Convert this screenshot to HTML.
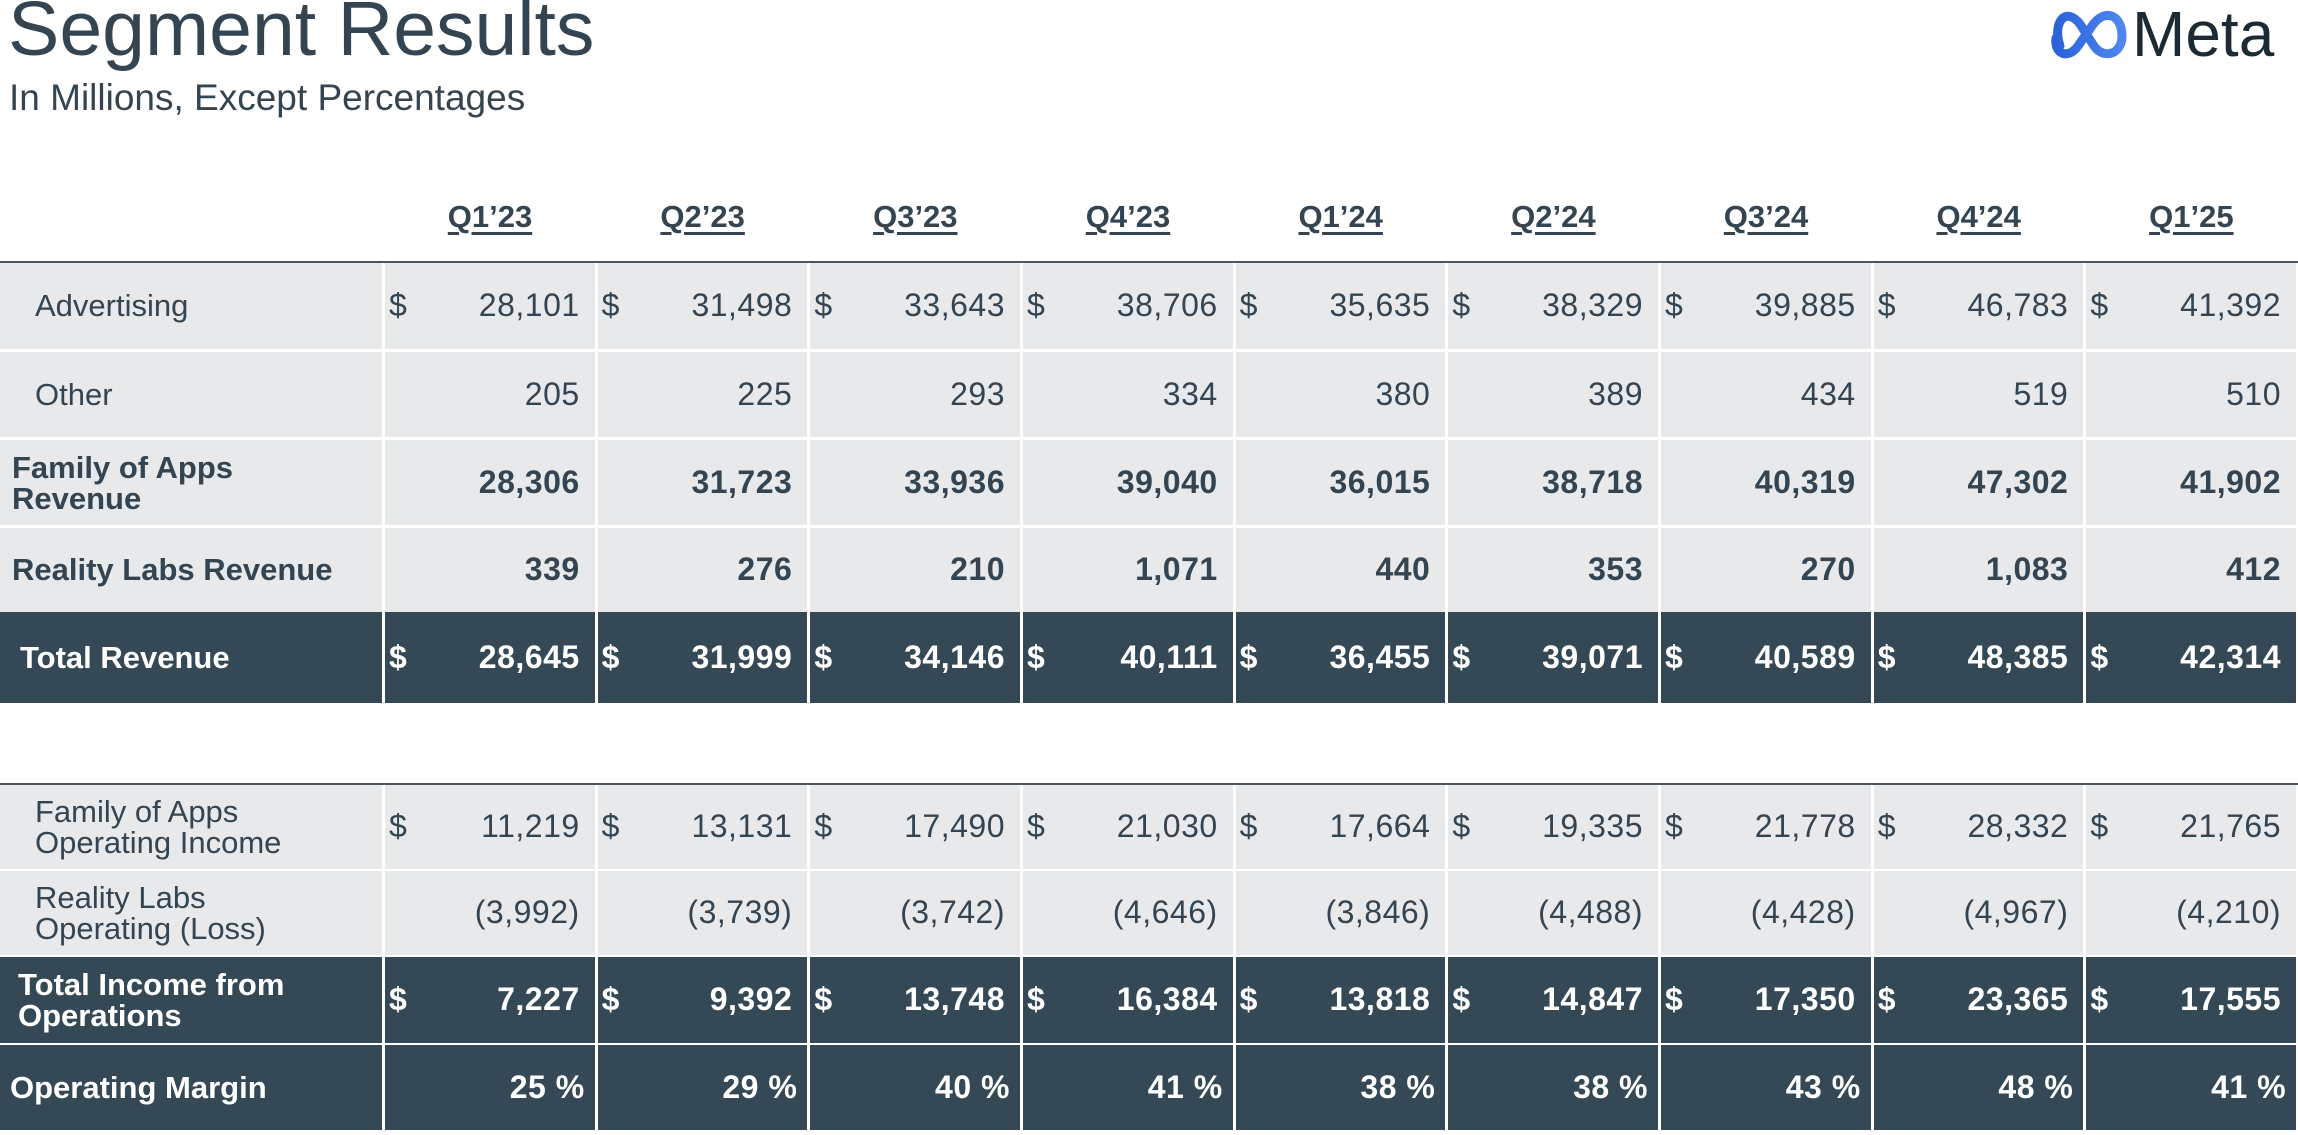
<!DOCTYPE html>
<html><head><meta charset="utf-8">
<style>
html,body{margin:0;padding:0;background:#fff;}
body{width:2298px;height:1135px;position:relative;overflow:hidden;font-family:"Liberation Sans",sans-serif;color:#344551;}
.a{position:absolute;white-space:nowrap;}
.cell{position:absolute;}
.lt{background:#e8e9ea;}
.dk{background:#344955;color:#fff;}
.num{position:absolute;right:15px;font-size:32px;letter-spacing:0.5px;}
.dol{position:absolute;left:4px;font-size:32px;}
.lbl{position:absolute;font-size:31px;line-height:31px;}
.hdr{position:absolute;font-size:31px;font-weight:bold;text-decoration:underline;text-underline-offset:5px;text-align:center;width:212px;}
</style></head><body>
<div class="a" style="left:8px;top:-15px;font-size:77px;color:#344551;">Segment Results</div>
<div class="a" style="left:9px;top:77px;font-size:37px;color:#344551;">In Millions, Except Percentages</div>
<div class="a" style="left:2048px;top:2px;width:250px;height:64px;">
<svg width="250" height="64">
<defs><linearGradient id="g" x1="0" x2="1"><stop offset="0" stop-color="#2a63d8"/><stop offset="1" stop-color="#4f86f0"/></linearGradient></defs>
<path d="M12,44 C4,20 18,4 32,22 L46,44 C56,58 74,52 74,34 C74,12 56,6 44,24 L30,44 C20,58 6,52 8,36" fill="none" stroke="url(#g)" stroke-width="9" stroke-linecap="round"/>
</svg>
<div class="a" style="left:84px;top:-5px;font-size:64px;color:#1c2b33;">Meta</div>
</div>
<div id="t"></div>
<script>
const quarters=["Q1’23","Q2’23","Q3’23","Q4’23","Q1’24","Q2’24","Q3’24","Q4’24","Q1’25"];
const advertising=[28101,31498,33643,38706,35635,38329,39885,46783,41392];
const other=[205,225,293,334,380,389,434,519,510];
const foaRevenue=[28306,31723,33936,39040,36015,38718,40319,47302,41902];
const rlRevenue=[339,276,210,1071,440,353,270,1083,412];
const totalRevenue=[28645,31999,34146,40111,36455,39071,40589,48385,42314];
const foaIncome=[11219,13131,17490,21030,17664,19335,21778,28332,21765];
const rlLoss=[-3992,-3739,-3742,-4646,-3846,-4488,-4428,-4967,-4210];
const totalIncome=[7227,9392,13748,16384,13818,14847,17350,23365,17555];
const margin=[25,29,40,41,38,38,43,48,41];

const root=document.getElementById('t');
const X0=384,CW=212.67;
function fmt(v){const s=Math.abs(v).toLocaleString('en-US');return v<0?'('+s+')':s;}
function add(parent,cls,css,txt){const d=document.createElement('div');d.className=cls;d.style.cssText=css;if(txt!==undefined)d.textContent=txt;parent.appendChild(d);return d;}
quarters.forEach((q,i)=>{const h=add(root,'hdr','left:'+(X0+i*CW)+'px;top:199px;',q);

});
const lines=[261,783];
lines.forEach((y,i)=>{const l=add(root,'a','left:0;top:'+y+'px;width:2298px;height:2px;background:#4a555c;');

});
const rows=[
 {name:'advertising',label:'Advertising',vals:advertising,top:263,h:86,dark:false,bold:false,dol:true,lx:35,two:false},
 {name:'other',label:'Other',vals:other,top:352,h:85,dark:false,bold:false,dol:false,lx:35,two:false},
 {name:'family-of-apps-revenue',label:'Family of Apps<br>Revenue',vals:foaRevenue,top:440,h:85,dark:false,bold:true,dol:false,lx:12,two:true},
 {name:'reality-labs-revenue',label:'Reality Labs Revenue',vals:rlRevenue,top:528,h:84,dark:false,bold:true,dol:false,lx:12,two:false},
 {name:'total-revenue',label:'Total Revenue',vals:totalRevenue,top:612,h:91,dark:true,bold:true,dol:true,lx:20,two:false},
 {name:'family-of-apps-operating-income',label:'Family of Apps<br>Operating Income',vals:foaIncome,top:785,h:84,dark:false,bold:false,dol:true,lx:35,two:true},
 {name:'reality-labs-operating-loss',label:'Reality Labs<br>Operating (Loss)',vals:rlLoss,top:871,h:84,dark:false,bold:false,dol:false,lx:35,two:true},
 {name:'total-income-from-operations',label:'Total Income from<br>Operations',vals:totalIncome,top:957,h:86,dark:true,bold:true,dol:true,lx:18,two:true},
 {name:'operating-margin',label:'Operating Margin',vals:margin,top:1045,h:85,dark:true,bold:true,dol:false,lx:10,two:false,pct:true},
];
rows.forEach(r=>{
 const row=add(root,'a','left:0;top:'+r.top+'px;width:2298px;height:'+r.h+'px;');
 
 
 const lc=add(row,'cell '+(r.dark?'dk':'lt'),'left:0;top:0;width:'+(X0-2)+'px;height:'+r.h+'px;');
 
 
 const lt=add(lc,'lbl','left:'+r.lx+'px;top:'+(r.two?(r.h/2-31):(r.h/2-16))+'px;font-weight:'+(r.bold?'bold':'normal')+';');
 lt.innerHTML=r.label;
 r.vals.forEach((v,i)=>{
  const c=add(row,'cell '+(r.dark?'dk':'lt'),'left:'+(X0+i*CW+1)+'px;top:0;width:'+(CW-3)+'px;height:'+r.h+'px;');
  
  
  const fw=r.bold?'bold':'normal';
  if(r.dol){add(c,'dol','top:'+(r.h/2-19)+'px;font-weight:'+fw+';','$');}
  add(c,'num','top:'+(r.h/2-19)+'px;font-weight:'+fw+';'+(r.pct?'right:10px;':''),r.pct?(v+' %'):fmt(v));
 });
});
</script>
</body></html>
